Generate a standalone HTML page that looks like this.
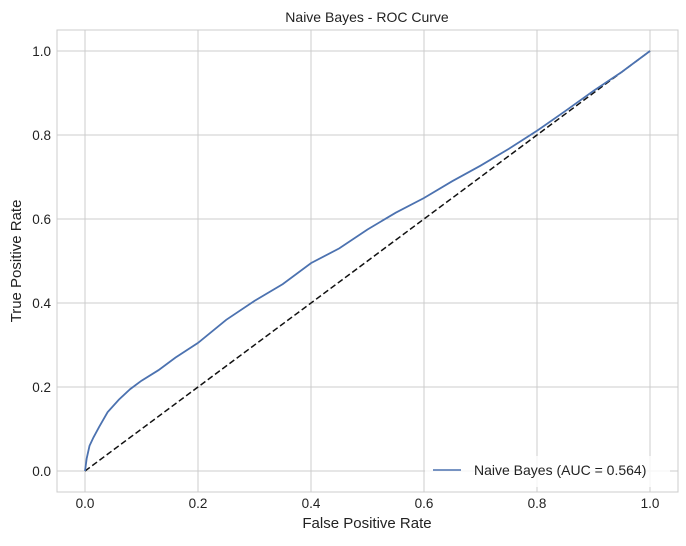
<!DOCTYPE html>
<html><head><meta charset="utf-8"><style>
body{margin:0;background:#fff;font-family:"Liberation Sans","DejaVu Sans",sans-serif}
</style></head><body>
<svg id="chart" width="686" height="541" xmlns="http://www.w3.org/2000/svg" font-family="Liberation Sans, DejaVu Sans, sans-serif">
<rect width="686" height="541" fill="#fff"/>
<g id="grid"></g>
<rect x="57" y="30" width="621" height="462" fill="none" stroke="#cccccc" stroke-width="1"/>
<g id="ticks"></g>
<g id="marks"></g>
<text x="367" y="22" text-anchor="middle" font-size="14" fill="#222">Naive Bayes - ROC Curve</text>
<text x="367" y="528" text-anchor="middle" font-size="15" fill="#222">False Positive Rate</text>
<text x="21" y="261" text-anchor="middle" font-size="15" fill="#222" transform="rotate(-90 21 261)">True Positive Rate</text>
<g>
<rect x="425" y="456" width="245" height="31" rx="3" fill="#fff" fill-opacity="0.8" stroke="none"/>
<line x1="433" y1="470" x2="461" y2="470" stroke="#4c72b0" stroke-width="1.5"/>
<text x="474" y="475" font-size="14" fill="#222">Naive Bayes (AUC = 0.564)</text>
</g>
</svg>
<script>
const ticks=[0,0.2,0.4,0.6,0.8,1.0];
const tickLabels=["0.0","0.2","0.4","0.6","0.8","1.0"];
const fpr=[0,0.003,0.008,0.015,0.025,0.04,0.06,0.08,0.1,0.13,0.16,0.2,0.25,0.3,0.35,0.4,0.45,0.5,0.55,0.6,0.65,0.7,0.75,0.8,0.85,0.9,0.95,1];
const tpr=[0,0.03,0.06,0.08,0.105,0.14,0.17,0.195,0.215,0.24,0.27,0.305,0.36,0.405,0.445,0.495,0.53,0.575,0.615,0.65,0.69,0.727,0.767,0.81,0.857,0.905,0.95,1];
const X=v=>85+v*565, Y=v=>471-v*420;
const ns="http://www.w3.org/2000/svg";
const g=document.getElementById('grid'),tk=document.getElementById('ticks'),m=document.getElementById('marks');
function mk(tag,attrs,parent){const e=document.createElementNS(ns,tag);for(const k in attrs)e.setAttribute(k,attrs[k]);parent.appendChild(e);return e;}
ticks.forEach((t,i)=>{
 const vl=mk('line',{x1:X(t),x2:X(t),y1:30,y2:492,stroke:'#cccccc','stroke-width':1},g);
 
 
 const hl=mk('line',{x1:57,x2:678,y1:Y(t),y2:Y(t),stroke:'#cccccc','stroke-width':1},g);
 
 
 const xt=mk('text',{x:X(t),y:508,'text-anchor':'middle','font-size':13.5,fill:'#222'},tk);
 xt.textContent=tickLabels[i];
 
 
 const yt=mk('text',{x:51,y:Y(t)+5,'text-anchor':'end','font-size':13.5,fill:'#222'},tk);
 yt.textContent=tickLabels[i];
 
 
});
const diag=mk('line',{x1:X(0),y1:Y(0),x2:X(1),y2:Y(1),stroke:'#111','stroke-width':1.5,'stroke-dasharray':'6,3'},m);


const p=mk('path',{d:fpr.map((v,i)=>(i?'L':'M')+X(v)+','+Y(tpr[i])).join(''),fill:'none',stroke:'#4c72b0','stroke-width':1.8},m);


</script>
</body></html>
